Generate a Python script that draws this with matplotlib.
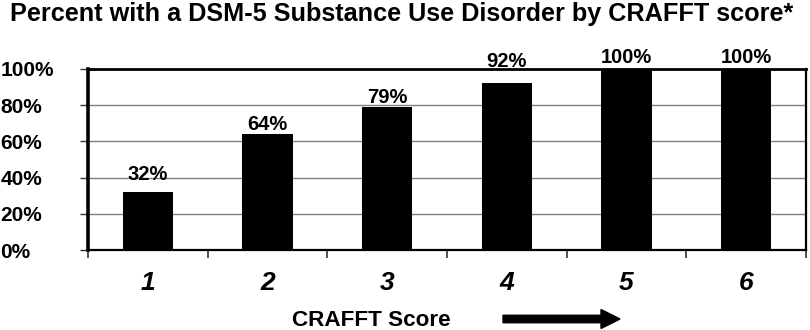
import matplotlib
matplotlib.use("Agg")
import matplotlib.pyplot as plt
from matplotlib.patches import FancyArrow
import numpy as np

plt.rcParams['font.family'] = ['Liberation Sans', 'DejaVu Sans']

categories = ["1", "2", "3", "4", "5", "6"]
values = [32, 64, 79, 92, 100, 100]
value_labels = ["32%", "64%", "79%", "92%", "100%", "100%"]
y_ticks = [0, 20, 40, 60, 80, 100]
y_tick_labels = ["0%", "20%", "40%", "60%", "80%", "100%"]
title = "Percent with a DSM-5 Substance Use Disorder by CRAFFT score*"
x_title = "CRAFFT Score"

# style: gap (points) between bar top and label baseline
label_gaps_pt = [8.6, 2.9, 2.9, 12.2, 4.3, 4.3]

W, H = 810, 330
fig = plt.figure(figsize=(W / 100, H / 100), dpi=100)
ax = fig.add_axes([88 / W, 1 - 250 / H, (806 - 88) / W, (250 - 69) / H])

x = np.arange(len(categories))
bars = ax.bar(x, values, width=0.42, color="black", zorder=3)

ax.set_xlim(-0.5, len(categories) - 0.5)
ax.set_ylim(0, 100)

# grid
ax.set_yticks(y_ticks)
ax.yaxis.grid(True, color="#7f7f7f", linewidth=1.0, zorder=0)
ax.set_axisbelow(True)

# y tick labels, left aligned at figure left
ax.set_yticklabels(y_tick_labels, fontsize=15, fontweight="bold")
for lab in ax.get_yticklabels():
    lab.set_horizontalalignment("left")
ax.tick_params(axis="y", direction="out", length=6, width=1.0, color="#333333", pad=57)

# x ticks at category boundaries, labels at centers
ax.set_xticks(np.arange(-0.5, len(categories), 1.0))
ax.set_xticklabels([])
ax.set_xticks(x, minor=True)
ax.set_xticklabels(categories, minor=True, fontsize=19, fontweight="bold", fontstyle="italic")
ax.tick_params(axis="x", which="major", direction="out", length=6, width=1.2, color="#333333")
ax.tick_params(axis="x", which="minor", length=0, pad=15)

# spines
ax.spines["left"].set_linewidth(2.6)
ax.spines["top"].set_linewidth(2.0)
ax.spines["bottom"].set_linewidth(1.6)
ax.spines["right"].set_linewidth(1.6)
for s in ax.spines.values():
    s.set_color("black")
    s.set_zorder(4)

# value labels
for xi, v, lab, gap in zip(x, values, value_labels, label_gaps_pt):
    ax.annotate(lab, xy=(xi, v), xytext=(0, gap), textcoords="offset points",
                ha="center", va="baseline", fontsize=14.5, fontweight="bold",
                annotation_clip=False, zorder=5)

# title
fig.text(402 / W, 1 - 14 / H, title, ha="center", va="center",
         fontsize=18.2, fontweight="bold")

# x axis title
fig.text(371 / W, 1 - 320 / H, x_title, ha="center", va="center",
         fontsize=16.2, fontweight="bold")

# arrow (pixel based, in inches)
arrow = FancyArrow(503 / 100, (H - 319) / 100, (620 - 503) / 100, 0,
                   width=7.5 / 100, head_width=19 / 100, head_length=19 / 100,
                   length_includes_head=True, color="black",
                   transform=fig.dpi_scale_trans)
fig.add_artist(arrow)

fig.savefig("out.png", dpi=100)
